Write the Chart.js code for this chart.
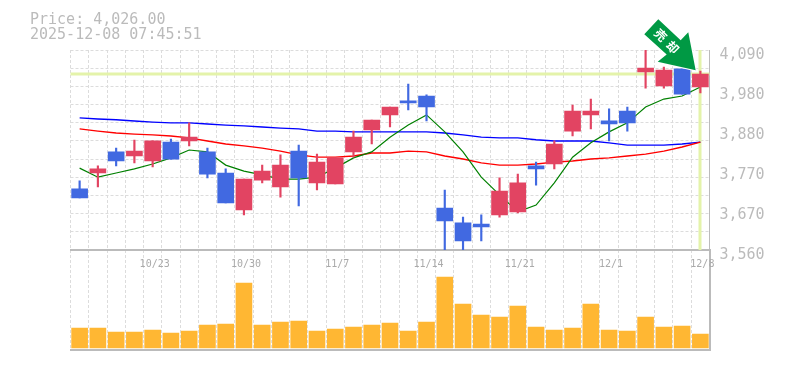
<!DOCTYPE html>
<html>
<head>
<meta charset="utf-8">
<script src="https://cdn.jsdelivr.net/npm/chart.js@4"></script>
<style>
  html, body { margin: 0; padding: 0; background: #fff; }
  #wrap { position: relative; width: 785px; height: 370px; overflow: hidden; }
  #wrap canvas { position: absolute; left: 0; top: 0; }
  #info { position: absolute; left: 30px; top: 12px; color: #bbb; font: 15px/15px "DejaVu Sans Mono", monospace; white-space: pre; }
</style>
</head>
<body>
<div id="wrap">
  <canvas id="volChart" width="785" height="370"></canvas>
  <canvas id="priceChart" width="785" height="370"></canvas>
  <div id="info">Price: 4,026.00
2025-12-08 07:45:51</div>
</div>
<script>
const dates = ['10/17','10/20','10/21','10/22','10/23','10/24','10/27','10/28','10/29','10/30','10/31','11/4','11/5','11/6','11/7','11/10','11/11','11/12','11/13','11/14','11/17','11/18','11/19','11/20','11/21','11/25','11/26','11/27','11/28','12/1','12/2','12/3','12/4','12/5','12/8'];
const opens = [3722,3764,3820,3809,3796,3846,3849,3820,3764,3666,3745,3727,3822,3738,3735,3820,3878,3918,3955,3968,3671,3632,3629,3653,3661,3783,3788,3875,3918,3902,3928,4032,3995,4040,3992];
const highs = [3743,3783,3830,3851,3849,3854,3897,3830,3775,3748,3785,3812,3838,3814,3804,3875,3904,3939,4000,3971,3719,3647,3653,3751,3761,3793,3849,3944,3960,3934,3939,4090,4045,4040,4034];
const lows = [3698,3727,3783,3791,3780,3801,3836,3751,3685,3653,3738,3700,3677,3719,3735,3806,3841,3886,3931,3902,3560,3560,3584,3647,3658,3732,3775,3862,3881,3849,3875,3989,3989,3973,3976];
const closes = [3698,3775,3796,3822,3849,3801,3859,3761,3685,3748,3769,3785,3751,3793,3804,3859,3904,3939,3950,3939,3637,3584,3621,3716,3738,3775,3841,3928,3928,3894,3897,4042,4037,3973,4026];
const maShort = [3777,3753,3764,3775,3788,3804,3825,3820,3785,3769,3759,3748,3748,3753,3777,3804,3820,3859,3891,3918,3873,3820,3753,3706,3661,3679,3738,3806,3844,3873,3897,3939,3960,3968,3992];
const maMid = [3881,3875,3870,3867,3865,3862,3857,3849,3841,3836,3830,3822,3812,3806,3806,3809,3817,3817,3822,3820,3809,3801,3791,3785,3785,3788,3793,3796,3801,3804,3809,3814,3822,3833,3846];
const maLong = [3910,3907,3905,3902,3899,3897,3897,3894,3891,3889,3886,3883,3881,3875,3875,3873,3873,3873,3873,3873,3870,3865,3859,3857,3857,3852,3849,3849,3849,3844,3838,3838,3838,3841,3846];
const volumes = [20,20,16,16,18,15,17,23,24,65,23,26,27,17,19,21,23,25,17,26,71,44,33,31,42,21,18,20,44,18,17,31,21,22,14];
const lastPrice = 4026;
const priceMin = 3560;
const priceMax = 4090;

const BLUE = '#4169e1';
const RED = '#e24462';
const GRID = '#dcdcdc';
const AXIS = '#bbbbbb';
const candleColor = ctx => closes[ctx.dataIndex] >= opens[ctx.dataIndex] ? RED : BLUE;
const monoFont = size => ({ family: '"DejaVu Sans Mono", monospace', size: size });

// price line and last-bar marker, under the candles
const priceMarks = {
  id: 'priceMarks',
  beforeDatasetsDraw(chart) {
    const { ctx, chartArea: a, scales } = chart;
    const y = scales.y.getPixelForValue(lastPrice);
    const x = scales.x.getPixelForValue(dates.length - 1);
    ctx.save();
    ctx.fillStyle = '#e4f3aa';
    ctx.fillRect(a.left, Math.round(y) - 1.5, a.width, 3);
    ctx.fillRect(Math.round(x) - 1.5, a.top, 3, a.height);
    ctx.restore();
  }
};

// sell signal arrow, hangs off the last candle
const signalArrow = {
  id: 'signalArrow',
  afterDraw(chart) {
    const { ctx, scales } = chart;
    const tipX = scales.x.getPixelForValue(dates.length - 1) - 4.7;
    const tipY = scales.y.getPixelForValue(lastPrice) - 4;
    const shape = [[0,0],[-38,-8.3],[-29,-15.7],[-51.4,-36],[-37.4,-51],[-15,-30],[-7.4,-38]];
    ctx.save();
    ctx.translate(tipX, tipY);
    ctx.beginPath();
    shape.forEach((p, i) => i ? ctx.lineTo(p[0], p[1]) : ctx.moveTo(p[0], p[1]));
    ctx.closePath();
    ctx.lineWidth = 2;
    ctx.strokeStyle = '#fff';
    ctx.stroke();
    ctx.fillStyle = '#009944';
    ctx.fill();
    ctx.translate(-29, -29);
    ctx.rotate(Math.PI / 4);
    ctx.fillStyle = '#fff';
    ctx.font = 'bold 12px "Noto Sans CJK JP"';
    ctx.textAlign = 'center';
    ctx.textBaseline = 'middle';
    ctx.fillText('売', -8.5, 0);
    ctx.fillText('却', 8.5, 0);
    ctx.restore();
  }
};

new Chart(document.getElementById('priceChart').getContext('2d'), {
  data: {
    labels: dates,
    datasets: [
      { type: 'bar', label: 'body', data: opens.map((o, i) => [o, closes[i]]), backgroundColor: candleColor, barThickness: 16, grouped: false, order: 1, borderSkipped: false },
      { type: 'bar', label: 'wick', data: lows.map((l, i) => [l, highs[i]]), backgroundColor: candleColor, barThickness: 1.5, grouped: false, order: 2, borderSkipped: false },
      { type: 'line', label: 'MA short', data: maShort, borderColor: '#008000', borderWidth: 1.2, pointRadius: 0, tension: 0, order: 3 },
      { type: 'line', label: 'MA mid', data: maMid, borderColor: '#ff0000', borderWidth: 1.4, pointRadius: 0, tension: 0, order: 4 },
      { type: 'line', label: 'MA long', data: maLong, borderColor: '#0000ff', borderWidth: 1.4, pointRadius: 0, tension: 0, order: 5 }
    ]
  },
  options: {
    responsive: false,
    animation: false,
    layout: { padding: { top: 50, left: 70.5, right: 0, bottom: 0 } },
    plugins: { legend: { display: false }, tooltip: { enabled: false } },
    scales: {
      x: {
        type: 'category',
        offset: true,
        grid: { offset: true, color: GRID, drawTicks: false },
        border: { color: AXIS, dash: [3, 2], width: 2 },
        ticks: {
          color: '#aaaaaa', font: monoFont(10), padding: 8, labelOffset: 2, autoSkip: false, maxRotation: 0,
          callback: (v, i) => i % 5 === 4 ? dates[i] : ''
        },
        afterFit: s => { s.height = 120; }
      },
      y: {
        position: 'right',
        min: priceMin,
        max: priceMax,
        grid: { color: GRID, drawTicks: false },
        border: { color: AXIS, dash: [3, 2] },
        ticks: { display: false, count: 12 },
        afterFit: s => { s.width = 0; }
      },
      yLabels: {
        position: 'right',
        min: priceMin,
        max: priceMax,
        grid: { display: false, drawTicks: false },
        border: { display: false },
        ticks: {
          count: 6, color: AXIS, font: monoFont(15), padding: 10, labelOffset: 5,
          callback: v => (Math.round(v / 10) * 10).toLocaleString('en-US')
        },
        afterFit: s => { s.width = 75.5; }
      }
    }
  },
  plugins: [priceMarks, signalArrow]
});

new Chart(document.getElementById('volChart').getContext('2d'), {
  type: 'bar',
  data: {
    labels: dates,
    datasets: [{ data: volumes, backgroundColor: '#ffb733', barThickness: 16 }]
  },
  options: {
    responsive: false,
    animation: false,
    layout: { padding: { top: 250, left: 70.5, right: 75.5, bottom: 20 } },
    plugins: { legend: { display: false }, tooltip: { enabled: false } },
    scales: {
      x: {
        offset: true,
        grid: { offset: true, color: GRID, drawTicks: false },
        border: { color: AXIS, dash: [3, 2], width: 2 },
        ticks: { display: false }
      },
      y: {
        position: 'right',
        min: -2,
        max: 98,
        grid: { display: false, drawTicks: false },
        border: { color: AXIS, width: 2 },
        ticks: { display: false },
        afterFit: s => { s.width = 0; }
      }
    }
  }
});
</script>
</body>
</html>
